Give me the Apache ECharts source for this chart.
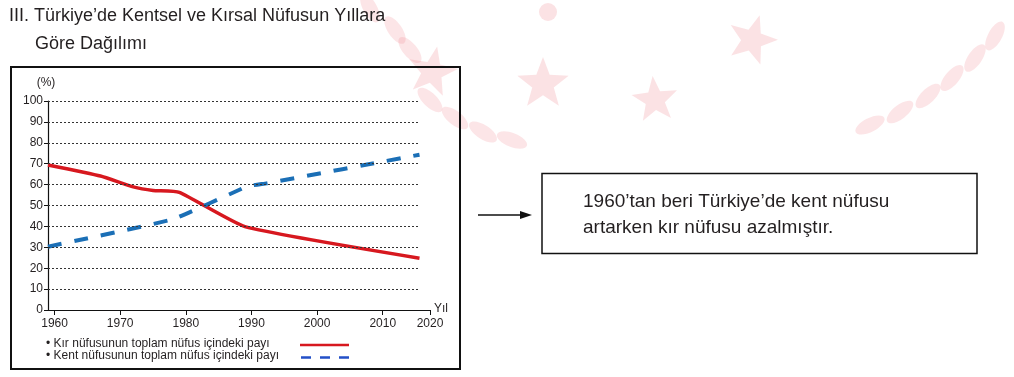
<!DOCTYPE html>
<html>
<head>
<meta charset="utf-8">
<script src="https://cdn.jsdelivr.net/npm/echarts@6/dist/echarts.min.js"></script>
<style>
html,body{margin:0;padding:0;background:#fff;}
#c{width:1014px;height:377px;}
</style>
</head>
<body>
<div id="c"></div>
<script>
// ---- data ----
const ruralYears = [1959, 1967, 1972, 1975, 1979, 1989, 2015.6];
const ruralShare = [69.4, 64.1, 58.9, 57.2, 56.3, 39.9, 24.8];
const urbanYears = [1959, 1978, 1989.4, 1992.3, 2015.6];
const urbanShare = [30.3, 43.4, 59.2, 60.6, 74.3];
const xTickYears = [1960, 1970, 1980, 1990, 2000, 2010, 2017.2];
const xTickLabels = ['1960', '1970', '1980', '1990', '2000', '2010', '2020'];
const yTicks = [0, 10, 20, 30, 40, 50, 60, 70, 80, 90, 100];
const gridLineEnd = 2015.6;
const titleLine1 = 'III. Türkiye’de Kentsel ve Kırsal Nüfusun Yıllara';
const titleLine2 = 'Göre Dağılımı';
const legendRural = '• Kır nüfusunun toplam nüfus içindeki payı';
const legendUrban = '• Kent nüfusunun toplam nüfus içindeki payı';
const noteLine1 = '1960’tan beri Türkiye’de kent nüfusu';
const noteLine2 = 'artarken kır nüfusu azalmıştır.';

const FONT = '"Liberation Sans", Arial, sans-serif';
const INK = '#231f20';
const RED = '#d7181f';
const BLUE = '#1b6fb6';

const chart = echarts.init(document.getElementById('c'), null, {renderer: 'canvas'});

function star(cx, cy, r, rot) {
  const pts = [];
  for (let i = 0; i < 10; i++) {
    const rr = i % 2 === 0 ? r : r * 0.42;
    const a = -Math.PI / 2 + rot + i * Math.PI / 5;
    pts.push([cx + rr * Math.cos(a), cy + rr * Math.sin(a)]);
  }
  return {type: 'polygon', z: -10, silent: true, shape: {points: pts}, style: {fill: 'rgba(236,110,120,0.2)'}};
}
function leaf(cx, cy, rx, ry, rot) {
  return {type: 'ellipse', z: -10, silent: true, x: cx, y: cy, rotation: rot,
    shape: {cx: 0, cy: 0, rx: rx, ry: ry}, style: {fill: 'rgba(236,110,120,0.18)'}};
}

const watermark = [
  star(432, 72, 26, 0.2), star(543, 84, 27, 0), star(655, 100, 24, -0.1), star(752, 40, 26, 0.3),
  {type: 'circle', z: -10, silent: true, shape: {cx: 548, cy: 12, r: 9}, style: {fill: 'rgba(236,110,120,0.2)'}},
  leaf(370, 8, 7, 16, 0.5), leaf(395, 30, 7, 16, 0.6), leaf(410, 50, 7, 16, 0.7), leaf(430, 100, 7, 16, 0.8),
  leaf(455, 118, 7, 16, 0.9), leaf(483, 132, 7, 16, 1.0), leaf(512, 140, 7, 16, 1.2),
  leaf(870, 125, 7, 16, -1.1), leaf(900, 112, 7, 16, -0.9), leaf(928, 96, 7, 16, -0.8),
  leaf(952, 78, 7, 16, -0.7), leaf(975, 58, 7, 16, -0.6), leaf(995, 36, 7, 16, -0.5)
];

const gridLines = yTicks.filter(v => v > 0).map(v => [{coord: [1959, v]}, {coord: [gridLineEnd, v]}]);

const option = {
  animation: false,
  backgroundColor: '#fff',
  textStyle: {fontFamily: FONT},
  grid: {left: 48, top: 101, width: 382, height: 209, containLabel: false},
  xAxis: {
    type: 'value', min: 1959, max: 2017.2,
    name: 'Yıl', nameLocation: 'end', nameGap: 4,
    nameTextStyle: {color: INK, fontSize: 12, fontFamily: FONT, verticalAlign: 'bottom', padding: [0, 0, -5, 0]},
    axisLine: {show: true, onZero: false, lineStyle: {color: '#111', width: 1.2}},
    axisTick: {show: true, customValues: xTickYears, length: 5, lineStyle: {color: '#111'}},
    axisLabel: {show: true, customValues: xTickYears, margin: 8, color: INK, fontSize: 12, fontFamily: FONT,
      formatter: v => xTickLabels[xTickYears.indexOf(v)] || ''},
    splitLine: {show: false}
  },
  yAxis: {
    type: 'value', min: 0, max: 100, interval: 10,
    name: '(%)', nameLocation: 'end', nameGap: 12,
    nameTextStyle: {color: INK, fontSize: 12, fontFamily: FONT, align: 'center', padding: [0, 4, 0, 0]},
    axisLine: {show: true, lineStyle: {color: '#111', width: 1.2}},
    axisTick: {show: true, length: 4, lineStyle: {color: '#111'}},
    axisLabel: {margin: 5, color: INK, fontSize: 12, fontFamily: FONT},
    splitLine: {show: false}
  },
  series: [
    {
      name: 'grid', type: 'line', data: [], silent: true,
      markLine: {silent: true, symbol: 'none', label: {show: false}, animation: false,
        lineStyle: {color: '#333', width: 1, type: [2, 2]}, data: gridLines}
    },
    {
      name: 'Kır', type: 'line', showSymbol: false, smooth: 0.15,
      data: ruralYears.map((y, i) => [y, ruralShare[i]]),
      lineStyle: {color: RED, width: 3.5}, z: 3
    },
    {
      name: 'Kent', type: 'line', showSymbol: false, smooth: 0.1,
      data: urbanYears.map((y, i) => [y, urbanShare[i]]),
      lineStyle: {color: BLUE, width: 4, type: [14, 13]}, z: 4
    }
  ],
  graphic: [
    ...watermark,
    {type: 'text', style: {text: titleLine1, x: 9, y: 16, font: '18px ' + FONT, fill: INK, textVerticalAlign: 'middle', verticalAlign: 'middle'}},
    {type: 'text', style: {text: titleLine2, x: 35, y: 44, font: '18px ' + FONT, fill: INK, textVerticalAlign: 'middle', verticalAlign: 'middle'}},
    {type: 'rect', shape: {x: 11, y: 67, width: 449, height: 302}, style: {fill: 'none', stroke: '#111', lineWidth: 2}},
    {type: 'text', style: {text: legendRural, x: 46, y: 344, font: '12px ' + FONT, fill: INK, textVerticalAlign: 'middle', verticalAlign: 'middle'}},
    {type: 'text', style: {text: legendUrban, x: 46, y: 355.5, font: '12px ' + FONT, fill: INK, textVerticalAlign: 'middle', verticalAlign: 'middle'}},
    {type: 'line', shape: {x1: 300, y1: 345, x2: 349, y2: 345}, style: {stroke: RED, lineWidth: 2.5}},
    {type: 'line', shape: {x1: 301, y1: 357.5, x2: 349, y2: 357.5}, style: {stroke: '#2350c8', lineWidth: 2.5, lineDash: [10, 9]}},
    {type: 'line', shape: {x1: 478, y1: 215, x2: 524, y2: 215}, style: {stroke: '#111', lineWidth: 1.3}},
    {type: 'polygon', shape: {points: [[532, 215], [520, 211], [520, 219]]}, style: {fill: '#111'}},
    {type: 'rect', shape: {x: 542, y: 173.5, width: 435, height: 80}, style: {fill: '#fff', stroke: '#111', lineWidth: 1.5}},
    {type: 'text', style: {text: noteLine1, x: 583, y: 202, font: '19px ' + FONT, fill: INK, textVerticalAlign: 'middle', verticalAlign: 'middle'}},
    {type: 'text', style: {text: noteLine2, x: 583, y: 227.5, font: '19px ' + FONT, fill: INK, textVerticalAlign: 'middle', verticalAlign: 'middle'}}
  ]
};
chart.setOption(option);
</script>
</body>
</html>
